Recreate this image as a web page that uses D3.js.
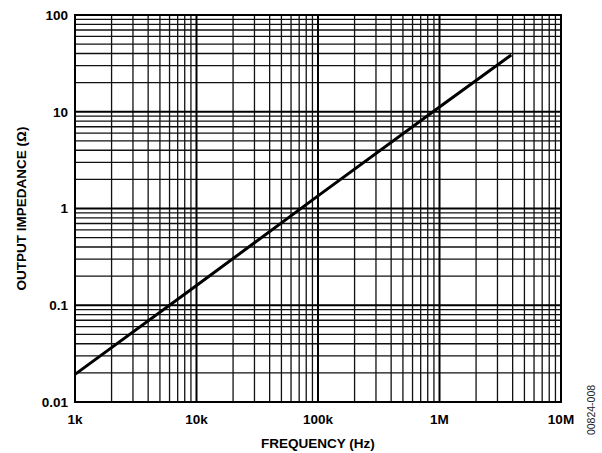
<!DOCTYPE html>
<html>
<head>
<meta charset="utf-8">
<script src="https://cdn.jsdelivr.net/npm/d3@7"></script>
<style>
  body { margin: 0; background: #fff; }
  text { font-family: "Liberation Sans", Arial, sans-serif; }
</style>
</head>
<body>
<svg width="602" height="453"></svg>
<script>
// data
var frequency = [1e3, 1e4, 1e5, 1e6, 3.9e6];
var impedance = [0.0193, 0.16, 1.35, 11.2, 38.6];

var xTicks = [1e3, 1e4, 1e5, 1e6, 1e7];
var xTickLabels = ["1k", "10k", "100k", "1M", "10M"];
var yTicks = [0.01, 0.1, 1, 10, 100];
var yTickLabels = ["0.01", "0.1", "1", "10", "100"];

var svg = d3.select("svg"),
    margin = {left: 75, top: 15, right: 41, bottom: 51},
    width = +svg.attr("width") - margin.left - margin.right,
    height = +svg.attr("height") - margin.top - margin.bottom;

var x = d3.scaleLog().domain([1e3, 1e7]).range([0, width]);
var y = d3.scaleLog().domain([0.01, 100]).range([height, 0]);

var g = svg.append("g")
    .attr("transform", "translate(" + margin.left + "," + margin.top + ")");

// minor grid (2..9 of each decade)
var xMinor = [], yMinor = [];
for (var d = 3; d < 7; d++) {
    for (var m = 2; m <= 9; m++) xMinor.push(m * Math.pow(10, d));
}
for (var e = -2; e < 2; e++) {
    for (var n = 2; n <= 9; n++) yMinor.push(n * Math.pow(10, e));
}

g.selectAll(".vminor").data(xMinor).enter().append("line")
    .attr("class", "vminor")
    .attr("x1", function (d) {return x(d);})
    .attr("x2", function (d) {return x(d);})
    .attr("y1", 0).attr("y2", height)
    .attr("stroke", "#111").attr("stroke-width", 1.3);

g.selectAll(".hminor").data(yMinor).enter().append("line")
    .attr("class", "hminor")
    .attr("y1", function (d) {return y(d);})
    .attr("y2", function (d) {return y(d);})
    .attr("x1", 0).attr("x2", width)
    .attr("stroke", "#111").attr("stroke-width", 1.3);

// decade lines
g.selectAll(".vmajor").data(xTicks).enter().append("line")
    .attr("class", "vmajor")
    .attr("x1", function (d) {return x(d);})
    .attr("x2", function (d) {return x(d);})
    .attr("y1", 0).attr("y2", height)
    .attr("stroke", "#000").attr("stroke-width", 2);

g.selectAll(".hmajor").data(yTicks).enter().append("line")
    .attr("class", "hmajor")
    .attr("y1", function (d) {return y(d);})
    .attr("y2", function (d) {return y(d);})
    .attr("x1", 0).attr("x2", width)
    .attr("stroke", "#000").attr("stroke-width", 2);

g.append("rect")
    .attr("width", width).attr("height", height)
    .attr("fill", "none").attr("stroke", "#000").attr("stroke-width", 2);

// tick labels
g.selectAll(".xlab").data(xTicks).enter().append("text")
    .attr("class", "xlab")
    .attr("x", function (d) {return x(d);})
    .attr("y", height + 22)
    .attr("text-anchor", "middle")
    .style("font-size", "13.5px").style("font-weight", "bold")
    .text(function (d, i) {return xTickLabels[i];});

g.selectAll(".ylab").data(yTicks).enter().append("text")
    .attr("class", "ylab")
    .attr("x", -7)
    .attr("y", function (d) {return y(d);})
    .attr("dy", "0.36em")
    .attr("text-anchor", "end")
    .style("font-size", "13.5px").style("font-weight", "bold")
    .text(function (d, i) {return yTickLabels[i];});

// the curve
var line = d3.line()
    .x(function (d, i) {return x(frequency[i]);})
    .y(function (d) {return y(d);});

g.append("path")
    .datum(impedance)
    .attr("d", line)
    .attr("fill", "none")
    .attr("stroke", "#000")
    .attr("stroke-width", 3);

// axis titles
svg.append("text")
    .attr("x", margin.left + width / 2)
    .attr("y", 448)
    .attr("text-anchor", "middle")
    .style("font-size", "13.5px").style("font-weight", "bold")
    .text("FREQUENCY (Hz)");

svg.append("text")
    .attr("transform", "translate(26," + (margin.top + height / 2) + ") rotate(-90)")
    .attr("text-anchor", "middle")
    .style("font-size", "13.5px").style("font-weight", "bold")
    .text("OUTPUT IMPEDANCE (Ω)");

svg.append("text")
    .attr("transform", "translate(595,410) rotate(-90)")
    .attr("text-anchor", "middle")
    .style("font-size", "10.5px")
    .attr("fill", "#222")
    .text("00824-008");
</script>
</body>
</html>
